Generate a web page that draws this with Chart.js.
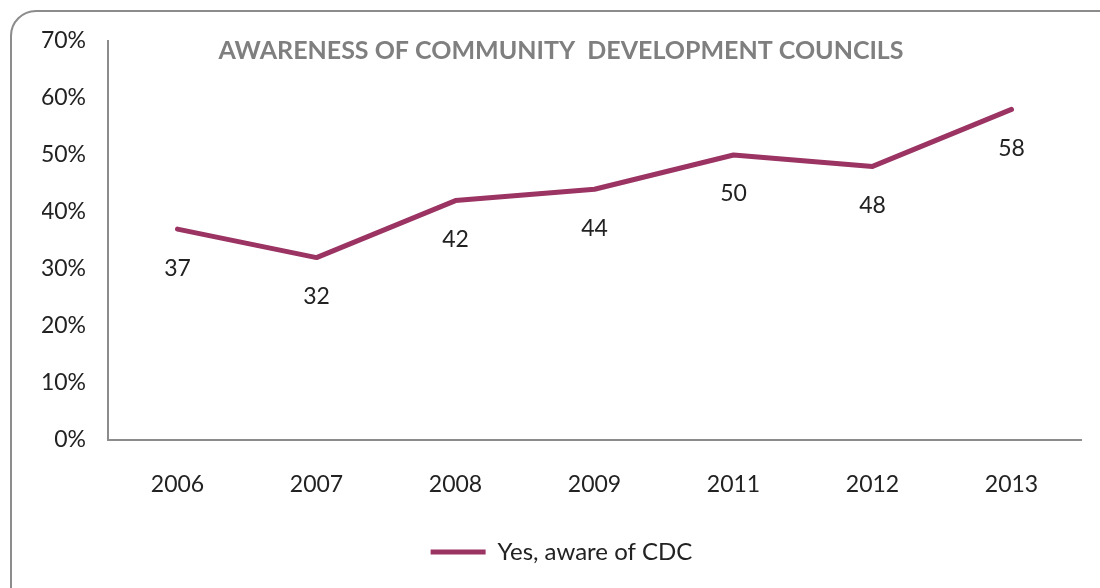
<!DOCTYPE html>
<html>
<head>
<meta charset="utf-8">
<script src="https://cdn.jsdelivr.net/npm/chart.js@4"></script>
<style>
  html, body { margin: 0; padding: 0; background: #fff; overflow: hidden; }
  #wrap { position: relative; width: 1100px; height: 588px; }
  #frame { position: absolute; left: 10px; top: 10px; width: 1120px; height: 620px;
           border: 2px solid #8c8c8c; border-radius: 26px; box-sizing: border-box; }
  canvas { position: absolute; left: 0; top: 0; }
</style>
</head>
<body>
<div id="wrap">
  <div id="frame"></div>
  <canvas id="lineChart" width="1100" height="588"></canvas>
</div>
<script>
  const years = ['2006', '2007', '2008', '2009', '2011', '2012', '2013'];
  const awareValues = [37, 32, 42, 44, 50, 48, 58];
  const yTicks = [0, 10, 20, 30, 40, 50, 60, 70];
  const chartTitle = 'AWARENESS OF COMMUNITY  DEVELOPMENT COUNCILS';

  const fontFamily = 'Lato, "Open Sans", sans-serif';

  // title inside the plot + value labels under each point
  const extras = {
    id: 'extras',
    afterDatasetsDraw(chart) {
      const c = chart.ctx;
      const area = chart.chartArea;
      c.save();
      c.font = 'bold 25px ' + fontFamily;
      c.fillStyle = '#7f7f7f';
      c.textAlign = 'center';
      c.textBaseline = 'middle';
      c.fillText(chartTitle, 561, area.top + 10);

      c.font = '23px ' + fontFamily;
      c.fillStyle = '#222';
      const meta = chart.getDatasetMeta(0);
      meta.data.forEach((pt, i) => {
        c.fillText(String(awareValues[i]), pt.x, pt.y + 39);
      });
      c.restore();
    }
  };

  new Chart(document.getElementById('lineChart'), {
    type: 'line',
    data: {
      labels: years,
      datasets: [{
        label: 'Yes, aware of CDC',
        data: awareValues,
        borderColor: '#9b3463',
        backgroundColor: '#9b3463',
        borderWidth: 5,
        borderCapStyle: 'round',
        borderJoinStyle: 'round',
        pointRadius: 0,
        tension: 0
      }]
    },
    options: {
      responsive: false,
      animation: false,
      layout: { padding: { top: 41, right: 19, bottom: 14, left: 42 } },
      plugins: {
        tooltip: { enabled: false },
        legend: {
          position: 'bottom',
          labels: {
            usePointStyle: true,
            pointStyle: 'line',
            pointStyleWidth: 55,
            boxHeight: 5,
            padding: 10,
            color: '#222',
            font: { family: fontFamily, size: 24 }
          }
        }
      },
      scales: {
        x: {
          offset: true,
          grid: { display: false, drawTicks: false },
          border: { color: '#8c8c8c', width: 2 },
          ticks: { color: '#222', padding: 31, font: { family: fontFamily, size: 23 } },
          afterFit(scale) { scale.height = 90; }
        },
        y: {
          min: 0,
          max: 70,
          afterBuildTicks(scale) { scale.ticks = yTicks.map(v => ({ value: v })); },
          grid: { display: false, drawTicks: false },
          border: { color: '#8c8c8c', width: 2 },
          ticks: {
            color: '#222',
            padding: 22,
            font: { family: fontFamily, size: 23 },
            callback: v => v + '%'
          },
          afterFit(scale) { scale.width = 66; }
        }
      }
    },
    plugins: [extras]
  });
</script>
</body>
</html>
